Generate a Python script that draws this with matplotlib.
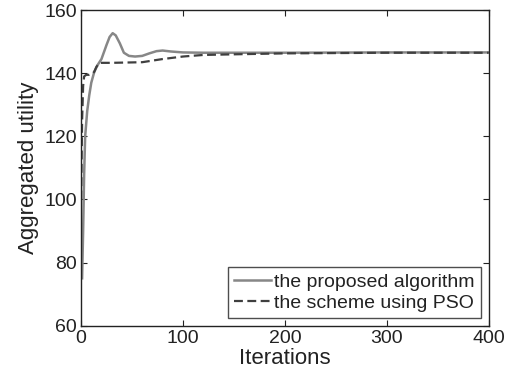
import numpy as np
from matplotlib import pyplot as plt

plt.rcParams['font.family'] = ['Liberation Sans', 'DejaVu Sans']

# proposed algorithm (solid gray)
prop_x = [1, 2, 3, 4, 6, 8, 10, 13, 16, 20, 25, 28, 31, 34, 38, 42, 47, 53,
          60, 67, 74, 80, 88, 100, 120, 150, 200, 300, 400]
prop_y = [75, 90, 108, 120, 128, 133, 137, 140.5, 142.5, 144.5, 149, 151.5,
          152.7, 152, 149.5, 146.5, 145.5, 145.3, 145.5, 146.3, 147, 147.2,
          146.9, 146.6, 146.5, 146.5, 146.5, 146.6, 146.6]

# scheme using PSO (dashed dark)
pso_x = [0, 1, 2, 3, 5, 8, 11, 13, 15, 18, 30, 60, 80, 100, 120, 150, 200,
         300, 400]
pso_y = [100, 125, 136, 139, 139.5, 139.5, 139.8, 140.5, 142, 143.3, 143.3,
         143.5, 144.5, 145.3, 145.8, 146, 146.3, 146.5, 146.5]

fig = plt.figure(figsize=(5.1, 3.76), dpi=100)
ax = fig.add_axes([0.159, 0.134, 0.799, 0.839])

ax.plot(prop_x, prop_y, color='#878787', lw=1.8, label='the proposed algorithm')
ax.plot(pso_x, pso_y, color='#3f3f3f', lw=1.6, dashes=(4, 2),
        label='the scheme using PSO')

ax.set_xlim(0, 400)
ax.set_ylim(60, 160)
ax.set_xticks([0, 100, 200, 300, 400])
ax.set_yticks([60, 80, 100, 120, 140, 160])
ax.tick_params(direction='in', top=True, right=True, labelsize=14,
               colors='#222222', length=4, width=0.8, pad=3)
for s in ax.spines.values():
    s.set_color('#222222')
    s.set_linewidth(1.0)

ax.set_xlabel('Iterations', fontsize=16, color='#222222', labelpad=1)
ax.set_ylabel('Aggregated utility', fontsize=16, color='#222222', labelpad=4)

leg = ax.legend(loc='lower right', fontsize=14, frameon=True, fancybox=False,
                handlelength=1.9, handletextpad=0.2, borderpad=0.3,
                labelspacing=0.2, borderaxespad=0.4)
leg.get_frame().set_edgecolor('#222222')
leg.get_frame().set_linewidth(1.0)
for t in leg.get_texts():
    t.set_color('#222222')

fig.savefig('out.png', dpi=100)
